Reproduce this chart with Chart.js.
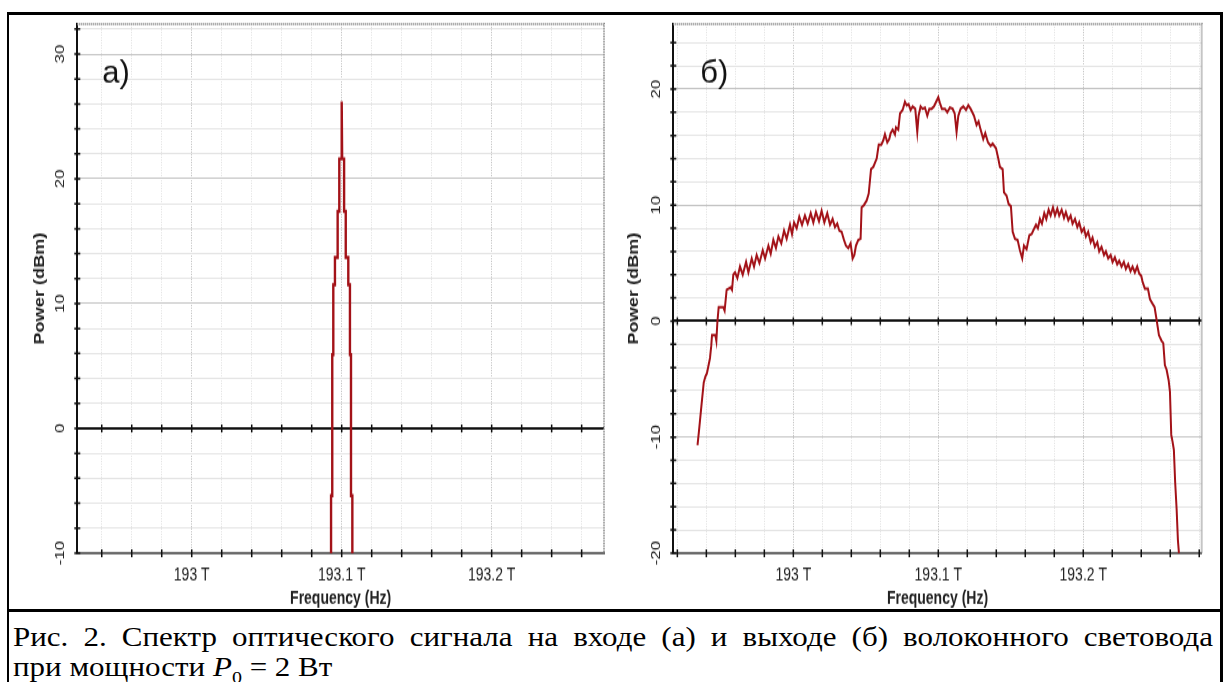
<!DOCTYPE html>
<html lang="ru">
<head>
<meta charset="utf-8">
<title>Спектр оптического сигнала</title>
<script src="https://cdn.jsdelivr.net/npm/chart.js@4.4.1/dist/chart.umd.min.js"></script>
<style>
  html, body { margin: 0; padding: 0; background: #fff; }
  body { position: relative; width: 1227px; height: 682px; overflow: hidden; }
  #frame { position: absolute; left: 7px; top: 12px; width: 1211px; height: 680px; border-left: 2px solid #000; border-right: 3px solid #000; border-top: 3px solid #000; }
  canvas { position: absolute; top: 15px; transform: scaleY(1.3); transform-origin: 0 0; }
  #chartA { left: 9px; }
  #chartB { left: 612px; }
  #sep { position: absolute; left: 7px; top: 609px; width: 1216px; height: 3px; background: #000; }
  #caption { position: absolute; left: 13px; top: 621px; width: 1200px; font-family: "Liberation Serif", "Times New Roman", serif; font-size: 31px; line-height: 35px; color: #000; transform: scaleY(0.88); transform-origin: 0 0; }
  #caption .l1 { white-space: nowrap; text-align: justify; text-align-last: justify; }
</style>
</head>
<body>
<div id="frame"></div>
<canvas id="chartA" width="600" height="458"></canvas>
<canvas id="chartB" width="600" height="458"></canvas>
<div id="sep"></div>
<div id="caption">
  <div class="l1">Рис. 2. Спектр оптического сигнала на входе (а) и выходе (б) волоконного световода</div>
  <div>при мощности <i>P</i><sub style="font-size:20px">0</sub> = 2 Вт</div>
</div>
<script>
"use strict"

// spectrum at the fibre input (a), THz / dBm
const freqA = [193.0929, 193.0929, 193.0937, 193.0937, 193.0944, 193.0944, 193.0955, 193.0955, 193.0973, 193.0973,
  193.0984, 193.0984, 193.0997, 193.1000, 193.1003, 193.1016, 193.1016, 193.1027, 193.1027, 193.1044,
  193.1044, 193.1055, 193.1055, 193.1062, 193.1062, 193.1071, 193.1071];
const powerA = [-10.5, -5.4, -5.4, 5.9, 5.9, 11.5, 11.5, 13.7, 13.7, 17.4,
  17.4, 21.6, 21.6, 26.2, 21.6, 21.6, 17.4, 17.4, 13.7, 13.7,
  11.5, 11.5, 5.9, 5.9, -5.4, -5.4, -10.5];

// spectrum at the fibre output (б)
const freqB = [192.9339, 192.9349, 192.9366, 192.9382, 192.9393, 192.9404, 192.9425, 192.9434, 192.9439, 192.9462,
  192.9469, 192.9476, 192.9485, 192.9517, 192.9526, 192.9540, 192.9568, 192.9577, 192.9586, 192.9598,
  192.9614, 192.9632, 192.9651, 192.9674, 192.9690, 192.9713, 192.9729, 192.9747, 192.9766, 192.9789,
  192.9805, 192.9828, 192.9844, 192.9862, 192.9880, 192.9897, 192.9917, 192.9936, 192.9954, 192.9977,
  192.9991, 193.0005, 193.0023, 193.0041, 193.0060, 193.0080, 193.0099, 193.0120, 193.0138, 193.0156,
  193.0177, 193.0195, 193.0214, 193.0234, 193.0253, 193.0271, 193.0287, 193.0303, 193.0317, 193.0333,
  193.0349, 193.0363, 193.0379, 193.0395, 193.0409, 193.0421, 193.0432, 193.0448, 193.0464, 193.0471,
  193.0487, 193.0506, 193.0520, 193.0536, 193.0552, 193.0575, 193.0589, 193.0607, 193.0621, 193.0632,
  193.0648, 193.0662, 193.0671, 193.0685, 193.0701, 193.0708, 193.0724, 193.0736, 193.0754, 193.0770,
  193.0782, 193.0795, 193.0809, 193.0823, 193.0841, 193.0855, 193.0864, 193.0878, 193.0892, 193.0908,
  193.0924, 193.0938, 193.0954, 193.0970, 193.0989, 193.1000, 193.1011, 193.1025, 193.1046, 193.1062,
  193.1080, 193.1099, 193.1113, 193.1126, 193.1138, 193.1154, 193.1172, 193.1191, 193.1207, 193.1223,
  193.1246, 193.1264, 193.1278, 193.1292, 193.1310, 193.1324, 193.1343, 193.1361, 193.1375, 193.1398,
  193.1414, 193.1425, 193.1444, 193.1453, 193.1471, 193.1485, 193.1501, 193.1513, 193.1529, 193.1547,
  193.1563, 193.1579, 193.1591, 193.1609, 193.1628, 193.1644, 193.1655, 193.1674, 193.1687, 193.1701,
  193.1715, 193.1731, 193.1745, 193.1761, 193.1775, 193.1791, 193.1805, 193.1821, 193.1834, 193.1851,
  193.1867, 193.1880, 193.1897, 193.1913, 193.1926, 193.1943, 193.1959, 193.1972, 193.1989, 193.2005,
  193.2018, 193.2034, 193.2051, 193.2064, 193.2080, 193.2097, 193.2110, 193.2126, 193.2143, 193.2156,
  193.2172, 193.2189, 193.2202, 193.2218, 193.2234, 193.2248, 193.2264, 193.2280, 193.2294, 193.2310,
  193.2326, 193.2340, 193.2356, 193.2372, 193.2386, 193.2400, 193.2409, 193.2425, 193.2446, 193.2460,
  193.2478, 193.2492, 193.2506, 193.2522, 193.2540, 193.2552, 193.2563, 193.2575, 193.2589, 193.2598,
  193.2607, 193.2616, 193.2625, 193.2634, 193.2644, 193.2653, 193.2660];
const powerB = [-10.7, -9.5, -7.3, -5.3, -4.8, -4.5, -3.2, -2.1, -1.2, -1.2,
  -1.7, -0.1, 1.2, 1.2, 0.9, 2.7, 2.9, 2.7, 4.0, 4.2,
  3.7, 4.7, 4.0, 5.1, 4.2, 5.4, 4.7, 5.7, 5.0, 6.1,
  5.4, 6.5, 5.8, 7.0, 6.3, 7.3, 6.7, 7.8, 7.1, 8.3,
  7.5, 8.5, 8.0, 9.0, 8.3, 9.1, 8.4, 9.3, 8.5, 9.4,
  8.6, 9.5, 8.5, 9.3, 8.3, 8.8, 8.1, 8.4, 7.8, 7.7,
  7.0, 6.5, 6.3, 6.7, 5.4, 5.7, 6.5, 7.0, 7.1, 9.8,
  10.0, 10.4, 11.0, 13.1, 13.3, 14.0, 15.2, 15.2, 15.6, 16.1,
  15.4, 15.7, 16.2, 16.5, 16.1, 16.7, 16.5, 17.9, 18.2, 18.9,
  18.6, 18.7, 18.2, 18.5, 18.3, 16.3, 17.7, 18.5, 18.3, 18.4,
  17.7, 18.3, 18.3, 18.5, 19.0, 19.3, 18.8, 18.3, 18.3, 18.0,
  18.4, 18.3, 17.9, 16.3, 17.7, 18.3, 18.5, 18.2, 18.6, 18.3,
  17.7, 16.9, 17.2, 16.5, 15.7, 16.2, 15.4, 15.1, 15.3, 14.9,
  14.0, 13.3, 13.1, 11.1, 10.8, 10.1, 9.9, 7.7, 7.1, 7.0,
  6.1, 5.4, 6.5, 6.2, 7.4, 7.5, 7.8, 8.3, 8.0, 8.8,
  8.4, 9.3, 8.8, 9.6, 9.1, 9.8, 9.1, 9.7, 9.1, 9.6,
  8.9, 9.4, 8.7, 9.1, 8.4, 8.8, 8.1, 8.5, 7.7, 8.0,
  7.3, 7.7, 6.8, 7.2, 6.4, 6.8, 6.0, 6.4, 5.7, 6.0,
  5.4, 5.7, 5.1, 5.5, 4.9, 5.2, 4.7, 5.1, 4.5, 4.9,
  4.3, 4.7, 4.2, 4.7, 4.1, 3.9, 3.4, 2.8, 2.8, 1.9,
  1.5, 1.2, 0.1, -1.2, -1.7, -1.9, -3.8, -4.2, -5.1, -6.1,
  -9.8, -10.4, -11.1, -13.9, -16.2, -18.9, -20.0];

// axis ranges and labelled ticks
const xRangeA = [192.9237, 193.2749];
const xRangeB = [192.9172, 193.2817];
const yRangeA = [-10, 32.4];
const yRangeB = [-20, 25.6];
const yLabelsA = [-10, 0, 10, 20, 30];
const yLabelsB = [-20, -10, 0, 10, 20];

const lineColor = "#a31218";
const fontName = '"Liberation Sans", Arial, sans-serif';
const stretch = 1.3; // canvases are stretched vertically by css

function isMajor(v, step) {
    return Math.abs(v / step - Math.round(v / step)) < 1e-6;
}

// extra drawing: crossing tick marks, dotted frame, rotated y labels, panel tag
const decor = {
    id: "decor",
    beforeDatasetsDraw(chart) {
        const {ctx, scales: {x, y}} = chart;
        const y0 = y.getPixelForValue(0);
        ctx.save();
        ctx.strokeStyle = "#111";
        ctx.lineWidth = 1.5;
        ctx.beginPath();
        x.ticks.forEach(t => {
            const px = x.getPixelForValue(t.value);
            ctx.moveTo(px, y0 - 3);
            ctx.lineTo(px, y0 + 3);
        });
        ctx.stroke();
        ctx.restore();
    },
    afterDraw(chart, args, opts) {
        const {ctx, chartArea: a, scales: {x, y}} = chart;
        ctx.save();
        // dotted top and right edges
        ctx.setLineDash([1, 1]);
        ctx.strokeStyle = "#8c8c8c";
        ctx.lineWidth = 2;
        ctx.beginPath();
        ctx.moveTo(a.left, a.top);
        ctx.lineTo(a.right, a.top);
        ctx.lineTo(a.right, a.bottom);
        ctx.stroke();
        ctx.setLineDash([]);

        // ticks across the left axis and the bottom axis
        ctx.strokeStyle = "#111";
        ctx.lineWidth = 1.5;
        ctx.beginPath();
        y.ticks.forEach(t => {
            const py = y.getPixelForValue(t.value);
            ctx.moveTo(a.left - 3, py);
            ctx.lineTo(a.left + 3, py);
        });
        x.ticks.forEach(t => {
            const px = x.getPixelForValue(t.value);
            ctx.moveTo(px, a.bottom - 3);
            ctx.lineTo(px, a.bottom + 3);
        });
        ctx.stroke();

        // rotated y tick labels
        ctx.fillStyle = "#222";
        ctx.font = "13px " + fontName;
        ctx.textAlign = "center";
        ctx.textBaseline = "middle";
        opts.labels.forEach(v => {
            const py = y.getPixelForValue(v);
            ctx.save();
            ctx.translate(a.left - 17, py);
            ctx.rotate(-Math.PI / 2);
            ctx.fillText(String(v), 0, 0);
            ctx.restore();
        });

        // panel tag, drawn without the vertical stretch
        ctx.fillStyle = "#111";
        ctx.font = "31px " + fontName;
        ctx.textAlign = "left";
        ctx.textBaseline = "alphabetic";
        ctx.translate(a.left + opts.tagX, a.top + 44.6);
        ctx.scale(1, 1 / stretch);
        ctx.fillText(opts.tag, 0, 0);
        ctx.restore();
    }
};

function makeChart(id, freq, power, xRange, yRange, yLabels, tag, axisW, padRight, titlePad, tagX, lineW) {
    const points = [];
    for (let i = 0; i < freq.length; i++) {
        points.push({x: freq[i], y: power[i]});
    }
    return new Chart(document.getElementById(id), {
        type: "line",
        data: {
            datasets: [{
                data: points,
                borderColor: lineColor,
                borderWidth: lineW,
                pointRadius: 0,
                tension: 0,
                fill: false
            }]
        },
        options: {
            responsive: false,
            animation: false,
            events: [],
            layout: {padding: {top: 7, right: padRight, left: 0, bottom: 0}},
            plugins: {
                legend: {display: false},
                tooltip: {enabled: false},
                decor: {labels: yLabels, tag: tag, tagX: tagX}
            },
            scales: {
                x: {
                    type: "linear",
                    min: xRange[0],
                    max: xRange[1],
                    ticks: {
                        stepSize: 0.02,
                        includeBounds: false,
                        autoSkip: false,
                        maxRotation: 0,
                        padding: 9,
                        color: "#222",
                        font: {family: fontName, size: 14},
                        callback: v => isMajor(v, 0.1) ? Number(v.toFixed(1)) + " T" : ""
                    },
                    grid: {
                        drawTicks: false,
                        color: c => isMajor(c.tick.value, 0.1) ? "#c4c4c4" : "#e4e4e4"
                    },
                    border: {color: "#6a6a6a", width: 2, dash: [1, 1]},
                    title: {
                        display: true,
                        text: "Frequency (Hz)",
                        color: "#222",
                        font: {family: fontName, size: 14, weight: "bold"},
                        padding: {top: 0, bottom: 0}
                    },
                    afterFit: s => { s.height = 458 - 7 - 406.9; }
                },
                y: {
                    type: "linear",
                    min: yRange[0],
                    max: yRange[1],
                    ticks: {stepSize: 2, includeBounds: false, display: false},
                    grid: {
                        drawTicks: false,
                        color: c => c.tick.value === 0 ? "#111" : (isMajor(c.tick.value, 10) ? "#c4c4c4" : "#e4e4e4"),
                        lineWidth: c => c.tick.value === 0 ? 2 : 1
                    },
                    border: {color: "#111", width: 2},
                    title: {
                        display: true,
                        text: "Power (dBm)",
                        color: "#222",
                        font: {family: fontName, size: 14, weight: "bold"},
                        padding: {top: titlePad, bottom: 0}
                    },
                    afterFit: s => { s.width = axisW; }
                }
            }
        },
        plugins: [decor]
    });
}

makeChart("chartA", freqA, powerA, xRangeA, yRangeA, yLabelsA, "а)", 68.3, 5, 23, 25, 2.4);
makeChart("chartB", freqB, powerB, xRangeB, yRangeB, yLabelsB, "б)", 61.3, 10.3, 14, 27, 2);
</script>
</body>
</html>
